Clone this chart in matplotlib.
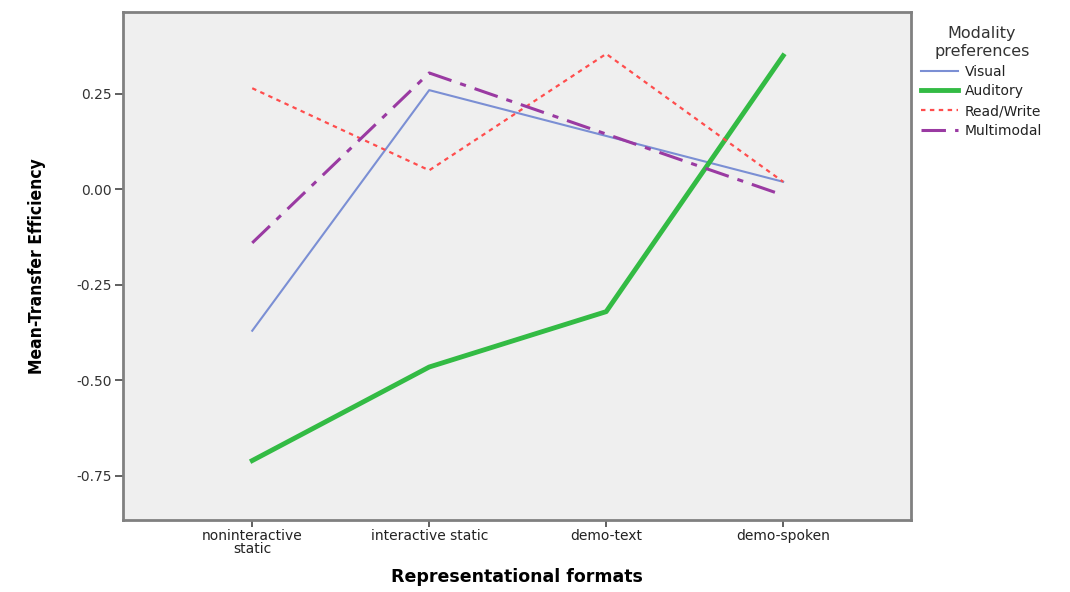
import matplotlib
matplotlib.use("Agg")
import matplotlib.pyplot as plt

formats = ["noninteractive\nstatic", "interactive static", "demo-text", "demo-spoken"]

visual = [-0.37, 0.26, 0.14, 0.02]
auditory = [-0.71, -0.465, -0.32, 0.35]
read_write = [0.265, 0.05, 0.355, 0.02]
multimodal = [-0.14, 0.305, 0.145, -0.015]

fig = plt.figure(figsize=(10.7, 5.92), dpi=100)
ax = fig.add_axes([0.115, 0.122, 0.736, 0.858])
ax.set_facecolor("#efefef")

x = range(len(formats))
ax.plot(x, visual, color="#7b8fd4", lw=1.5, label="Visual")
ax.plot(x, auditory, color="#33bb44", lw=3.5, label="Auditory")
ax.plot(x, read_write, color="#ff4d4d", lw=1.6, ls=(0, (2, 2)), label="Read/Write")
ax.plot(x, multimodal, color="#9a3aa2", lw=2.2, ls=(0, (8, 3, 2, 3)), label="Multimodal")

ax.set_xlim(-0.73, 3.72)
ax.set_ylim(-0.865, 0.465)
ax.set_yticks([0.25, 0.0, -0.25, -0.5, -0.75])
ax.set_yticklabels(["0.25", "0.00", "-0.25", "-0.50", "-0.75"])
ax.set_xticks(list(x))
ax.set_xticklabels(formats, linespacing=0.85)

for s in ax.spines.values():
    s.set_color("#808080")
    s.set_linewidth(2)
ax.tick_params(axis="y", length=6, width=1.2, color="#444444", labelsize=10, labelcolor="#333333", pad=2)
ax.tick_params(axis="x", length=5, width=1.2, color="#444444", labelsize=10, labelcolor="#222222", pad=2)

ax.set_ylabel("Mean-Transfer Efficiency", fontsize=12.5, fontweight="bold",
              family=["DejaVu Sans Condensed", "Liberation Sans Narrow", "DejaVu Sans"],
              fontstretch="condensed", labelpad=22)
ax.set_xlabel("Representational formats", fontsize=12.5, fontweight="bold", labelpad=9)

leg = fig.legend(loc="upper left", bbox_to_anchor=(0.856, 0.965), frameon=False,
                 title="Modality\npreferences", fontsize=10, title_fontsize=11.5,
                 handlelength=2.6, handletextpad=0.5, labelspacing=0.42, borderaxespad=0)
leg.get_title().set_color("#333333")
leg.get_title().set_multialignment("center")
for t in leg.get_texts():
    t.set_color("#222222")

plt.savefig("out.png")
